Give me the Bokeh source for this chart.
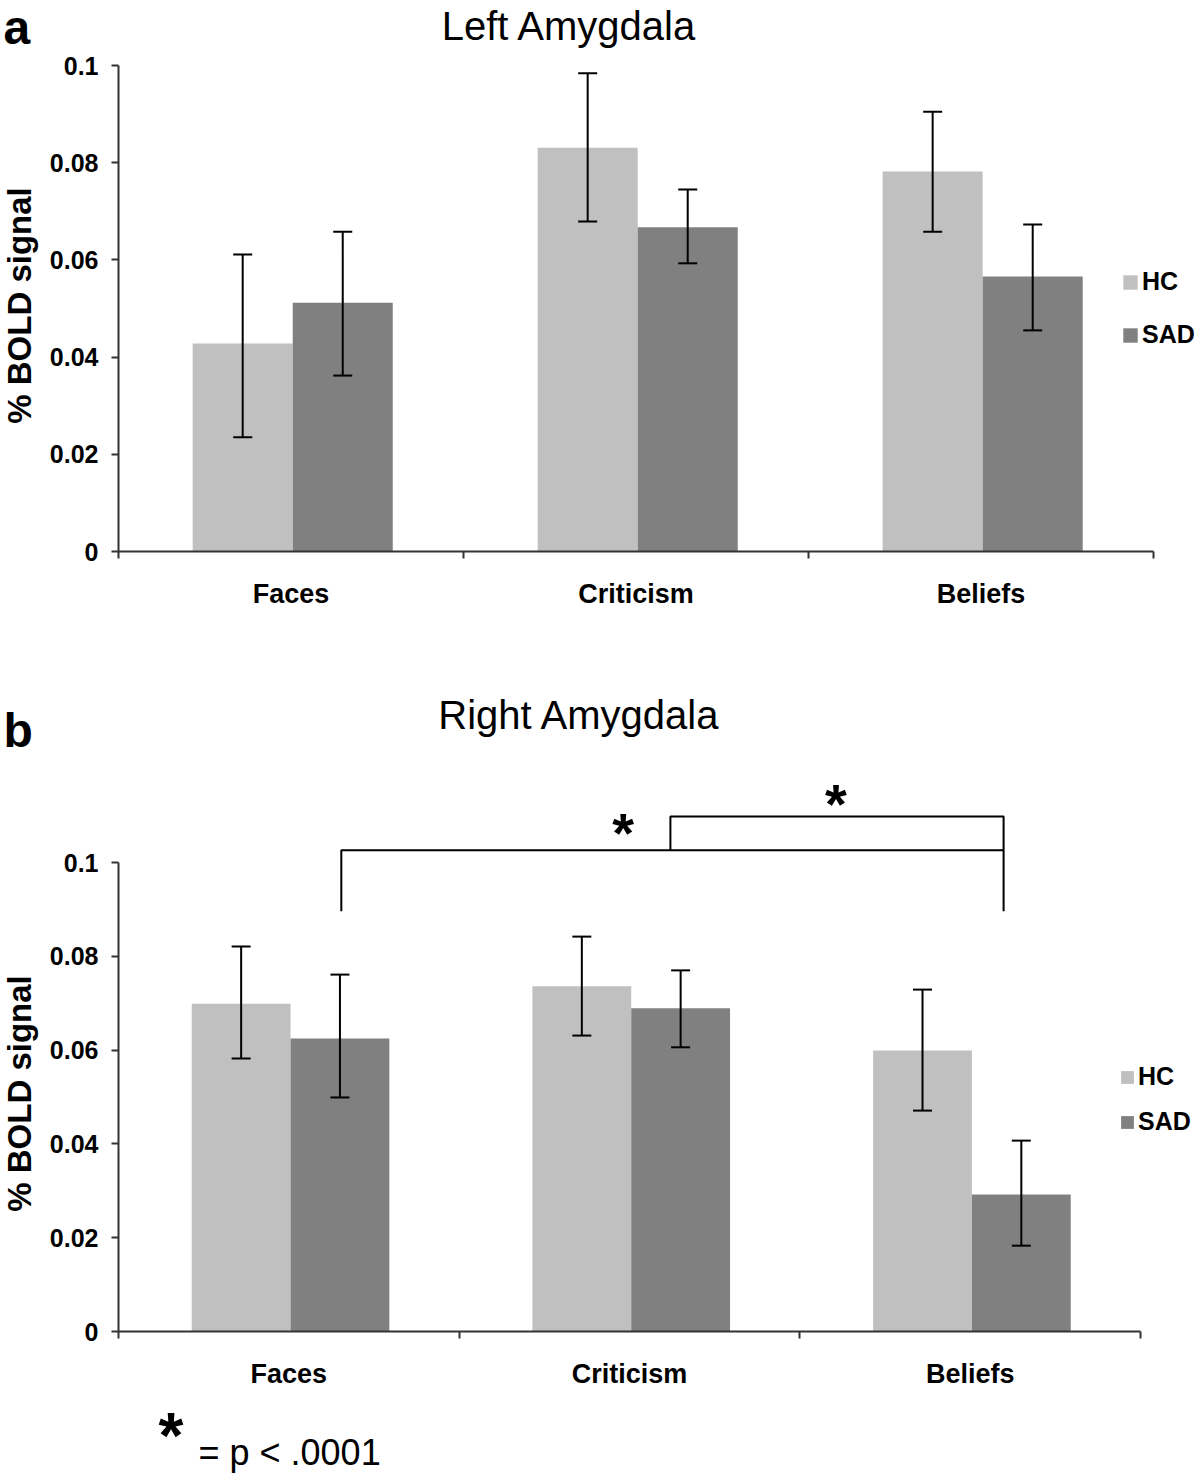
import math
from bokeh.plotting import figure
from bokeh.models import (Range1d, FixedTicker, Whisker, TeeHead, Legend, LegendItem,
                          Label, ColumnDataSource)
from bokeh.layouts import column, row
from bokeh.embed import file_html
from bokeh.resources import INLINE

# ---------------- data ----------------
categories = ["Faces", "Criticism", "Beliefs"]
groups = ["HC", "SAD"]
y_ticks = [0, 0.02, 0.04, 0.06, 0.08, 0.1]
y_tick_labels = ["0", "0.02", "0.04", "0.06", "0.08", "0.1"]

# Left amygdala (panel a)
left_hc = [0.0428, 0.0831, 0.0782]
left_hc_upper = [0.0611, 0.0984, 0.0905]
left_hc_lower = [0.0235, 0.0679, 0.0658]
left_sad = [0.0512, 0.0667, 0.0566]
left_sad_upper = [0.0658, 0.0745, 0.0673]
left_sad_lower = [0.0362, 0.0593, 0.0455]

# Right amygdala (panel b)
right_hc = [0.0699, 0.0736, 0.0599]
right_hc_upper = [0.0821, 0.0842, 0.0729]
right_hc_lower = [0.0582, 0.0631, 0.0471]
right_sad = [0.0625, 0.0689, 0.0292]
right_sad_upper = [0.0761, 0.0770, 0.0407]
right_sad_lower = [0.0499, 0.0606, 0.0183]

# significance brackets in panel b
bracket_x0 = [0.654, 1.62]
bracket_x1 = [2.598, 2.598]
bracket_level = [0.1026, 0.1098]
bracket_bottom = [0.0896, 0.1026]
star_x = [1.481, 2.106]
star_y = [0.1064, 0.1125]
footnote = "= p < .0001"

# ---------------- style ----------------
FONT = "Liberation Sans"
HC_COLOR = "#c0c0c0"
SAD_COLOR = "#808080"
AXIS_COLOR = "#333333"
BAR_W = 0.29
GROUP_CENTER = 0.505
OFFSETS = [-0.145, 0.145]
SIDE_W = 46
MAIN_W = 1200 - SIDE_W
LEFT_BORDER = 71
BASE_FIX = 0.36  # baseline correction (fraction of font size)
LETTER_FS = 48
YLABEL_FS = 33
TITLE_FS = 40


def side_panel(height, letter, letter_xy, ylabel_xy):
    s = figure(width=SIDE_W, height=height, output_backend="svg", toolbar_location=None,
               x_range=Range1d(0, SIDE_W), y_range=Range1d(0, height),
               x_axis_type=None, y_axis_type=None,
               min_border_left=0, min_border_right=0, min_border_top=0, min_border_bottom=0)
    s.outline_line_color = None
    s.grid.visible = False
    s.add_layout(Label(x=letter_xy[0], y=letter_xy[1] + BASE_FIX * LETTER_FS, x_units="screen",
                       y_units="screen", text=letter, text_font=FONT,
                       text_font_size=f"{LETTER_FS}px",
                       text_font_style="bold", text_align="left", text_baseline="alphabetic",
                       text_color="black"))
    s.add_layout(Label(x=ylabel_xy[0], y=ylabel_xy[1], x_units="screen", y_units="screen",
                       text="% BOLD signal", angle=math.pi / 2, text_font=FONT,
                       text_font_size=f"{YLABEL_FS}px", text_font_style="bold",
                       text_align="center", text_baseline="middle", text_color="black"))
    return s


def make_panel(title, hc, hc_up, hc_lo, sad, sad_up, sad_lo,
               height, bottom, frame_h, px_per_01, px_per_cat,
               legend_loc, legend_glyph, legend_spacing, title_pos):
    frame_w = MAIN_W - LEFT_BORDER
    y_end = 0.1 * frame_h / px_per_01
    x_end = frame_w / px_per_cat
    p = figure(width=MAIN_W, height=height, output_backend="svg", toolbar_location=None,
               x_range=Range1d(0, x_end), y_range=Range1d(0, y_end),
               min_border_left=LEFT_BORDER, min_border_right=0,
               min_border_top=0, min_border_bottom=bottom)
    p.outline_line_color = None
    p.xgrid.visible = False
    p.ygrid.visible = False

    renderers = []
    for gi, (vals, up, lo, col) in enumerate([(hc, hc_up, hc_lo, HC_COLOR),
                                               (sad, sad_up, sad_lo, SAD_COLOR)]):
        xs = [i + GROUP_CENTER + OFFSETS[gi] for i in range(len(categories))]
        src = ColumnDataSource(dict(x=xs, top=vals, upper=up, lower=lo))
        r = p.vbar(x="x", top="top", width=BAR_W, source=src, fill_color=col,
                   line_color=None)
        renderers.append(r)
        w = Whisker(base="x", upper="upper", lower="lower", source=src, level="overlay",
                    dimension="height", line_color="black", line_width=2,
                    upper_head=TeeHead(size=19, line_color="black", line_width=2),
                    lower_head=TeeHead(size=19, line_color="black", line_width=2))
        p.add_layout(w)

    legend = Legend(items=[LegendItem(label=g, renderers=[r]) for g, r in zip(groups, renderers)],
                    location=legend_loc, orientation="vertical",
                    glyph_width=legend_glyph, glyph_height=legend_glyph,
                    label_height=legend_glyph, label_standoff=3, spacing=legend_spacing,
                    padding=0, margin=0, border_line_color=None,
                    background_fill_alpha=0,
                    label_text_font=FONT, label_text_font_size="25px",
                    label_text_font_style="bold", label_text_color="black")
    p.add_layout(legend)

    ya = p.yaxis[0]
    ya.ticker = FixedTicker(ticks=y_ticks)
    ya.major_label_overrides = {t: s for t, s in zip(y_ticks, y_tick_labels)}
    ya.bounds = (0, 0.1)
    ya.axis_line_color = AXIS_COLOR
    ya.axis_line_width = 2
    ya.major_tick_line_color = AXIS_COLOR
    ya.major_tick_line_width = 2
    ya.major_tick_out = 7
    ya.major_tick_in = 0
    ya.minor_tick_line_color = None
    ya.major_label_standoff = 13
    ya.major_label_text_font = FONT
    ya.major_label_text_font_size = "25px"
    ya.major_label_text_font_style = "bold"
    ya.major_label_text_color = "black"

    xa = p.xaxis[0]
    centers = [i + 0.5 for i in range(len(categories))]
    xa.ticker = FixedTicker(ticks=centers, minor_ticks=list(range(len(categories) + 1)))
    xa.major_label_overrides = {c: s for c, s in zip(centers, categories)}
    xa.bounds = (0, len(categories))
    xa.axis_line_color = AXIS_COLOR
    xa.axis_line_width = 2
    xa.major_tick_line_color = None
    xa.major_tick_out = 0
    xa.major_tick_in = 0
    xa.minor_tick_line_color = AXIS_COLOR
    xa.minor_tick_line_width = 2
    xa.minor_tick_out = 7
    xa.minor_tick_in = 0
    xa.major_label_standoff = 20
    xa.major_label_text_font = FONT
    xa.major_label_text_font_size = "27px"
    xa.major_label_text_font_style = "bold"
    xa.major_label_text_color = "black"

    p.add_layout(Label(x=title_pos[0], y=title_pos[1] + BASE_FIX * TITLE_FS, x_units="screen",
                       y_units="screen", text=title, text_font=FONT,
                       text_font_size=f"{TITLE_FS}px",
                       text_align="center", text_baseline="alphabetic", text_color="black"))
    return p


# panel a: 640 px tall, axis zero at y=551
pa = make_panel("Left Amygdala", left_hc, left_hc_upper, left_hc_lower,
                left_sad, left_sad_upper, left_sad_lower,
                height=640, bottom=89, frame_h=551, px_per_01=486, px_per_cat=345.3,
                legend_loc=(1003, 202), legend_glyph=18, legend_spacing=24,
                title_pos=(451, 511))
sa = side_panel(640, "a", (3, 507), (19, 246))

# panel b: 760 px tall, axis zero at y=1331 (691 below its top)
pb = make_panel("Right Amygdala", right_hc, right_hc_upper, right_hc_lower,
                right_sad, right_sad_upper, right_sad_lower,
                height=760, bottom=69, frame_h=691, px_per_01=469, px_per_cat=341,
                legend_loc=(1001, 195), legend_glyph=16, legend_spacing=16,
                title_pos=(461, 602))
sb = side_panel(760, "b", (3, 584), (19, 238))

for x0, x1, lvl, bot in zip(bracket_x0, bracket_x1, bracket_level, bracket_bottom):
    pb.line(x=[x0, x0, x1, x1], y=[bot, lvl, lvl, bot], line_color="black", line_width=2)
for sx, sy in zip(star_x, star_y):
    pb.add_layout(Label(x=sx, y=sy, text="*", text_font=FONT, text_font_size="56px",
                        text_font_style="bold", text_align="center",
                        text_baseline="alphabetic", text_color="black"))

# footnote strip
foot = figure(width=1200, height=75, output_backend="svg", toolbar_location=None,
              x_range=Range1d(0, 1200), y_range=Range1d(0, 75),
              x_axis_type=None, y_axis_type=None,
              min_border_left=0, min_border_right=0, min_border_top=0, min_border_bottom=0)
foot.outline_line_color = None
foot.grid.visible = False
foot.add_layout(Label(x=158, y=40, x_units="screen", y_units="screen", text="*",
                      text_font=FONT, text_font_size="64px", text_font_style="bold",
                      text_align="left", text_baseline="alphabetic", text_color="black"))
foot.add_layout(Label(x=198, y=10 + BASE_FIX * 36, x_units="screen", y_units="screen",
                      text=footnote, text_font=FONT, text_font_size="36px",
                      text_align="left", text_baseline="alphabetic", text_color="black"))

layout = column(row(sa, pa), row(sb, pb), foot)
open("out.html", "w").write(file_html(layout, INLINE))
